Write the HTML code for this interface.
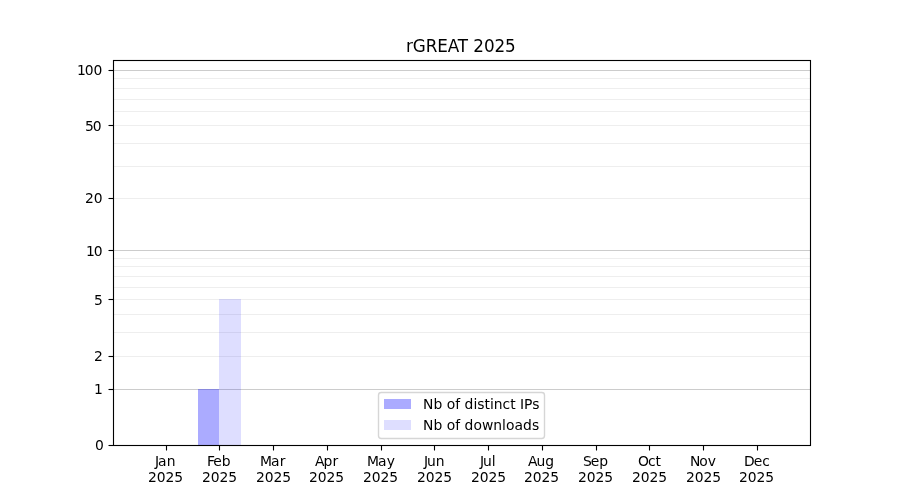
<!DOCTYPE html>
<html lang="en">
<head>
<meta charset="utf-8">
<title>rGREAT 2025</title>
<style>
html,body{margin:0;padding:0;background:#fff;}
body{width:900px;height:500px;overflow:hidden;}
svg{display:block;will-change:transform;}
text{font-family:"DejaVu Sans","Liberation Sans",sans-serif;fill:#000;}
.t10{font-size:13.889px;}
.t12{font-size:16.8px;}
.crisp{shape-rendering:crispEdges;}
</style>
</head>
<body>
<svg width="900" height="500" viewBox="0 0 900 500">
<rect x="0" y="0" width="900" height="500" fill="#ffffff"/>
<g class="crisp">
<rect x="113" y="356" width="698" height="1" fill="#eeeeee"/>
<rect x="113" y="332" width="698" height="1" fill="#eeeeee"/>
<rect x="113" y="314" width="698" height="1" fill="#eeeeee"/>
<rect x="113" y="299" width="698" height="1" fill="#eeeeee"/>
<rect x="113" y="287" width="698" height="1" fill="#eeeeee"/>
<rect x="113" y="276" width="698" height="1" fill="#eeeeee"/>
<rect x="113" y="266" width="698" height="1" fill="#eeeeee"/>
<rect x="113" y="258" width="698" height="1" fill="#eeeeee"/>
<rect x="113" y="198" width="698" height="1" fill="#eeeeee"/>
<rect x="113" y="166" width="698" height="1" fill="#eeeeee"/>
<rect x="113" y="143" width="698" height="1" fill="#eeeeee"/>
<rect x="113" y="125" width="698" height="1" fill="#eeeeee"/>
<rect x="113" y="111" width="698" height="1" fill="#eeeeee"/>
<rect x="113" y="99" width="698" height="1" fill="#eeeeee"/>
<rect x="113" y="88" width="698" height="1" fill="#eeeeee"/>
<rect x="113" y="78" width="698" height="1" fill="#eeeeee"/>
<rect x="113" y="389" width="698" height="1" fill="#cccccc"/>
<rect x="113" y="250" width="698" height="1" fill="#cccccc"/>
<rect x="113" y="70" width="698" height="1" fill="#cccccc"/>
</g>
<g class="crisp">
<rect x="198" y="389" width="21" height="56" fill="#0000ff" fill-opacity="0.33"/>
<rect x="219" y="299" width="22" height="146" fill="#0000ff" fill-opacity="0.13"/>
</g>
<g stroke="#000" stroke-width="1.111" fill="none">
<line x1="166.5" y1="445.5" x2="166.5" y2="450.5"/>
<line x1="219.5" y1="445.5" x2="219.5" y2="450.5"/>
<line x1="273.5" y1="445.5" x2="273.5" y2="450.5"/>
<line x1="327.5" y1="445.5" x2="327.5" y2="450.5"/>
<line x1="381.5" y1="445.5" x2="381.5" y2="450.5"/>
<line x1="434.5" y1="445.5" x2="434.5" y2="450.5"/>
<line x1="488.5" y1="445.5" x2="488.5" y2="450.5"/>
<line x1="542.5" y1="445.5" x2="542.5" y2="450.5"/>
<line x1="596.5" y1="445.5" x2="596.5" y2="450.5"/>
<line x1="649.5" y1="445.5" x2="649.5" y2="450.5"/>
<line x1="703.5" y1="445.5" x2="703.5" y2="450.5"/>
<line x1="757.5" y1="445.5" x2="757.5" y2="450.5"/>
<line x1="108.5" y1="445.5" x2="113.5" y2="445.5"/>
<line x1="108.5" y1="389.5" x2="113.5" y2="389.5"/>
<line x1="108.5" y1="356.5" x2="113.5" y2="356.5"/>
<line x1="108.5" y1="299.5" x2="113.5" y2="299.5"/>
<line x1="108.5" y1="250.5" x2="113.5" y2="250.5"/>
<line x1="108.5" y1="198.5" x2="113.5" y2="198.5"/>
<line x1="108.5" y1="125.5" x2="113.5" y2="125.5"/>
<line x1="108.5" y1="70.5" x2="113.5" y2="70.5"/>
<rect x="113.5" y="60.5" width="697" height="385" stroke-linejoin="miter"/>
</g>
<g>
<text class="t10" x="155 158 166.625" y="466">Jan</text><text class="t10" x="148 156.75 165.5 174.25" y="482">2025</text>
<text class="t10" x="207 213.25 221.75" y="466">Feb</text><text class="t10" x="202 210.75 219.5 228.25" y="482">2025</text>
<text class="t10" x="260 271 279.625" y="466">Mar</text><text class="t10" x="256 264.75 273.5 282.25" y="482">2025</text>
<text class="t10" x="315 323.5 332.375" y="466">Apr</text><text class="t10" x="309 317.75 326.5 335.25" y="482">2025</text>
<text class="t10" x="367 378 386.625" y="466">May</text><text class="t10" x="363 371.75 380.5 389.25" y="482">2025</text>
<text class="t10" x="424 427 435.75" y="466">Jun</text><text class="t10" x="417 425.75 434.5 443.25" y="482">2025</text>
<text class="t10" x="480 483 491.75" y="466">Jul</text><text class="t10" x="471 479.75 488.5 497.25" y="482">2025</text>
<text class="t10" x="528 536.5 545.25" y="466">Aug</text><text class="t10" x="524 532.75 541.5 550.25" y="482">2025</text>
<text class="t10" x="583 590.75 599.25" y="466">Sep</text><text class="t10" x="578 586.75 595.5 604.25" y="482">2025</text>
<text class="t10" x="638 647.875 655.5" y="466">Oct</text><text class="t10" x="632 640.75 649.5 658.25" y="482">2025</text>
<text class="t10" x="689.875 699.25 707.75" y="466">Nov</text><text class="t10" x="686 694.75 703.5 712.25" y="482">2025</text>
<text class="t10" x="744 753.75 762.25" y="466">Dec</text><text class="t10" x="739 747.75 756.5 765.25" y="482">2025</text>
</g>
<g>
<text class="t10" x="95" y="450">0</text>
<text class="t10" x="94" y="394">1</text>
<text class="t10" x="94" y="361">2</text>
<text class="t10" x="94" y="305">5</text>
<text class="t10" x="85.875 93.75" y="256">10</text>
<text class="t10" x="85 93.75" y="203">20</text>
<text class="t10" x="85 92.75" y="131">50</text>
<text class="t10" x="76.875 84.75 93.5" y="75">100</text>
</g>
<text class="t12" x="405.875 412.75 425.625 437.25 447.625 457.75 468 473.25 483.875 494.375 505" y="52">rGREAT 2025</text>
<rect x="378.5" y="392.5" width="166" height="46" rx="2.78" ry="2.78" fill="#ffffff" fill-opacity="0.8" stroke="#cccccc" stroke-opacity="0.8" stroke-width="1.389"/>
<g class="crisp"><rect x="384" y="399" width="27" height="10" fill="#0000ff" fill-opacity="0.33"/><rect x="384" y="420" width="27" height="10" fill="#0000ff" fill-opacity="0.13"/></g>
<text class="t10" x="423 433.375 442.25 446.625 455.125 460.125 464.5 473.375 477.25 484.375 489.875 493.75 502.5 510.125 515.625 520 524 532.125" y="409">Nb of distinct IPs</text>
<text class="t10" x="423 433.375 442.25 446.625 455.125 460.125 464.5 473.375 481.875 493.25 502 505.875 514.375 523 531.875" y="430">Nb of downloads</text>
</svg>
</body>
</html>
